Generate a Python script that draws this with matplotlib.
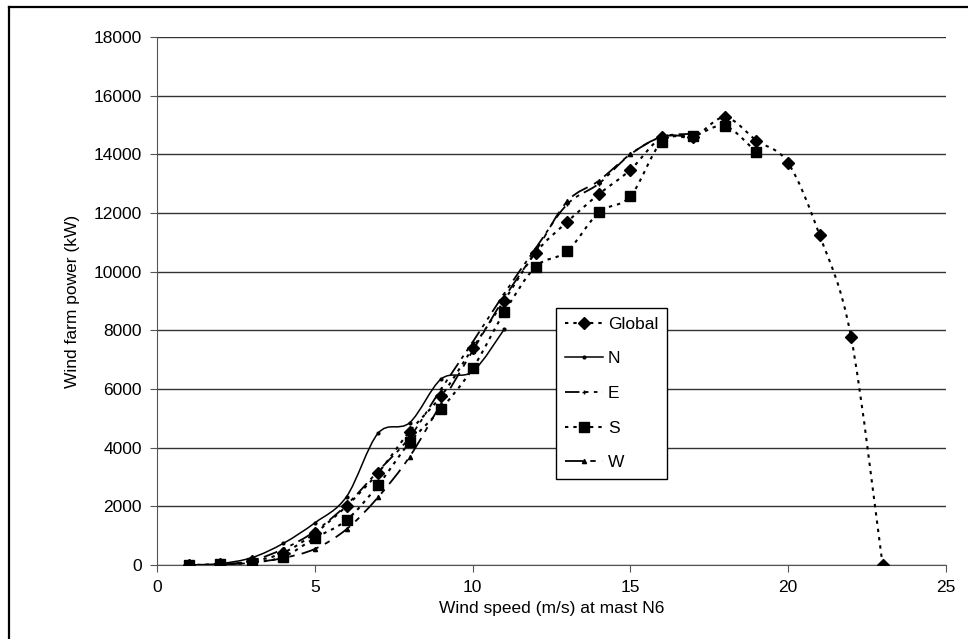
import matplotlib
matplotlib.use("Agg")
import matplotlib.pyplot as plt
import numpy as np
from matplotlib.path import Path
from matplotlib.patches import PathPatch
from matplotlib.lines import Line2D

plt.rcParams['font.family'] = ['Liberation Sans', 'DejaVu Sans']

# data (kW per wind speed bin)
global_x = [1, 2, 3, 4, 5, 6, 7, 8, 9, 10, 11, 12, 13, 14, 15, 16, 17, 18, 19, 20, 21, 22, 23]
global_y = [0, 20, 120, 420, 1090, 2010, 3140, 4550, 5760, 7390, 9010, 10650, 11700, 12640,
            13470, 14580, 14600, 15260, 14470, 13710, 11250, 7770, 0]

n_x = [1, 2, 3, 4, 5, 6, 7, 8, 9, 10, 11]
n_y = [0, 50, 250, 740, 1440, 2330, 4490, 4850, 6340, 6600, 8035]

e_x = [1, 2, 3, 4, 5, 6, 7, 8, 9, 10, 11, 12, 13, 14, 15, 16, 17]
e_y = [0, 20, 150, 550, 1150, 2050, 3200, 4350, 6000, 7600, 9250, 10800, 12300, 13000,
       14000, 14600, 14700]

s_x = [1, 2, 3, 4, 5, 6, 7, 8, 9, 10, 11, 12, 13, 14, 15, 16, 17, 18, 19]
s_y = [0, 20, 80, 280, 920, 1530, 2720, 4180, 5320, 6700, 8610, 10170, 10700, 12020,
       12570, 14430, 14620, 14960, 14070]

w_x = [1, 2, 3, 4, 5, 6, 7, 8, 9, 10, 11, 12, 13, 14, 15, 16, 17]
w_y = [0, 10, 80, 240, 550, 1220, 2310, 3690, 5500, 7300, 9100, 10700, 12400, 13100,
       14000, 14600, 14600]

x_ticks = [0, 5, 10, 15, 20, 25]
y_ticks = [0, 2000, 4000, 6000, 8000, 10000, 12000, 14000, 16000, 18000]


def smooth_path(xs, ys):
    # Excel style smoothed line: cubic bezier through every point
    p = np.column_stack([xs, ys]).astype(float)
    verts = [p[0]]
    codes = [Path.MOVETO]
    n = len(p)
    for i in range(n - 1):
        p0 = p[i - 1] if i > 0 else p[i]
        p3 = p[i + 2] if i + 2 < n else p[i + 1]
        c1 = p[i] + (p[i + 1] - p0) / 6.0
        c2 = p[i + 1] - (p3 - p[i]) / 6.0
        verts += [c1, c2, p[i + 1]]
        codes += [Path.CURVE4] * 3
    return Path(verts, codes)


fig = plt.figure(figsize=(9.68, 6.39), dpi=100)
ax = fig.add_axes([157.3 / 968, 1 - 565 / 639, (945.7 - 157.3) / 968, 528 / 639])

dots = (0, (1.6, 2.4))
series = [
    ("Global", global_x, global_y, dots, 1.5, 'D', 6.5),
    ("N", n_x, n_y, '-', 1.1, 'o', 2),
    ("E", e_x, e_y, (0, (8, 3, 2, 3, 2, 3)), 1.3, '+', 3),
    ("S", s_x, s_y, dots, 1.5, 's', 6.5),
    ("W", w_x, w_y, (0, (10, 4, 3, 4)), 1.3, '^', 3),
]

handles = []
for name, xs, ys, ls, lw, mk, ms in series:
    ax.add_patch(PathPatch(smooth_path(xs, ys), facecolor='none', edgecolor='black',
                           linestyle=ls, linewidth=lw, zorder=3))
    ax.plot(xs, ys, linestyle='none', marker=mk, markersize=ms, color='black', zorder=4)
    handles.append(Line2D([], [], color='black', linestyle=ls, linewidth=lw,
                          marker=mk, markersize=ms, label=name))

ax.set_xlim(0, 25)
ax.set_ylim(0, 18000)
ax.set_xticks(x_ticks)
ax.set_yticks(y_ticks)
ax.yaxis.grid(True, color='#333333', linewidth=1.0)
ax.set_axisbelow(True)
for s in ['top', 'right']:
    ax.spines[s].set_visible(False)
for s in ['left', 'bottom']:
    ax.spines[s].set_color('#555555')
ax.tick_params(direction='out', length=5, color='#555555', labelsize=12.5, pad=6)

ax.set_xlabel('Wind speed (m/s) at mast N6', fontsize=12.5, labelpad=4)
ax.set_ylabel('Wind farm power (kW)', fontsize=12.5, labelpad=10)

leg = ax.legend(handles=handles, loc='upper left', bbox_to_anchor=(0.5057, 0.4867),
                borderaxespad=0, fancybox=False, framealpha=1, edgecolor='black',
                fontsize=12.5, handlelength=2.2, handletextpad=0.3, labelspacing=1.12,
                borderpad=0.5)
leg.get_frame().set_linewidth(1.0)

# chart area frame
fig.add_artist(Line2D([9 / 968, 9 / 968], [0, 1 - 7 / 639], transform=fig.transFigure,
                      color='black', linewidth=1.6))
fig.add_artist(Line2D([9 / 968, 1], [1 - 7 / 639, 1 - 7 / 639], transform=fig.transFigure,
                      color='black', linewidth=1.6))

fig.savefig('out.png', dpi=100)
